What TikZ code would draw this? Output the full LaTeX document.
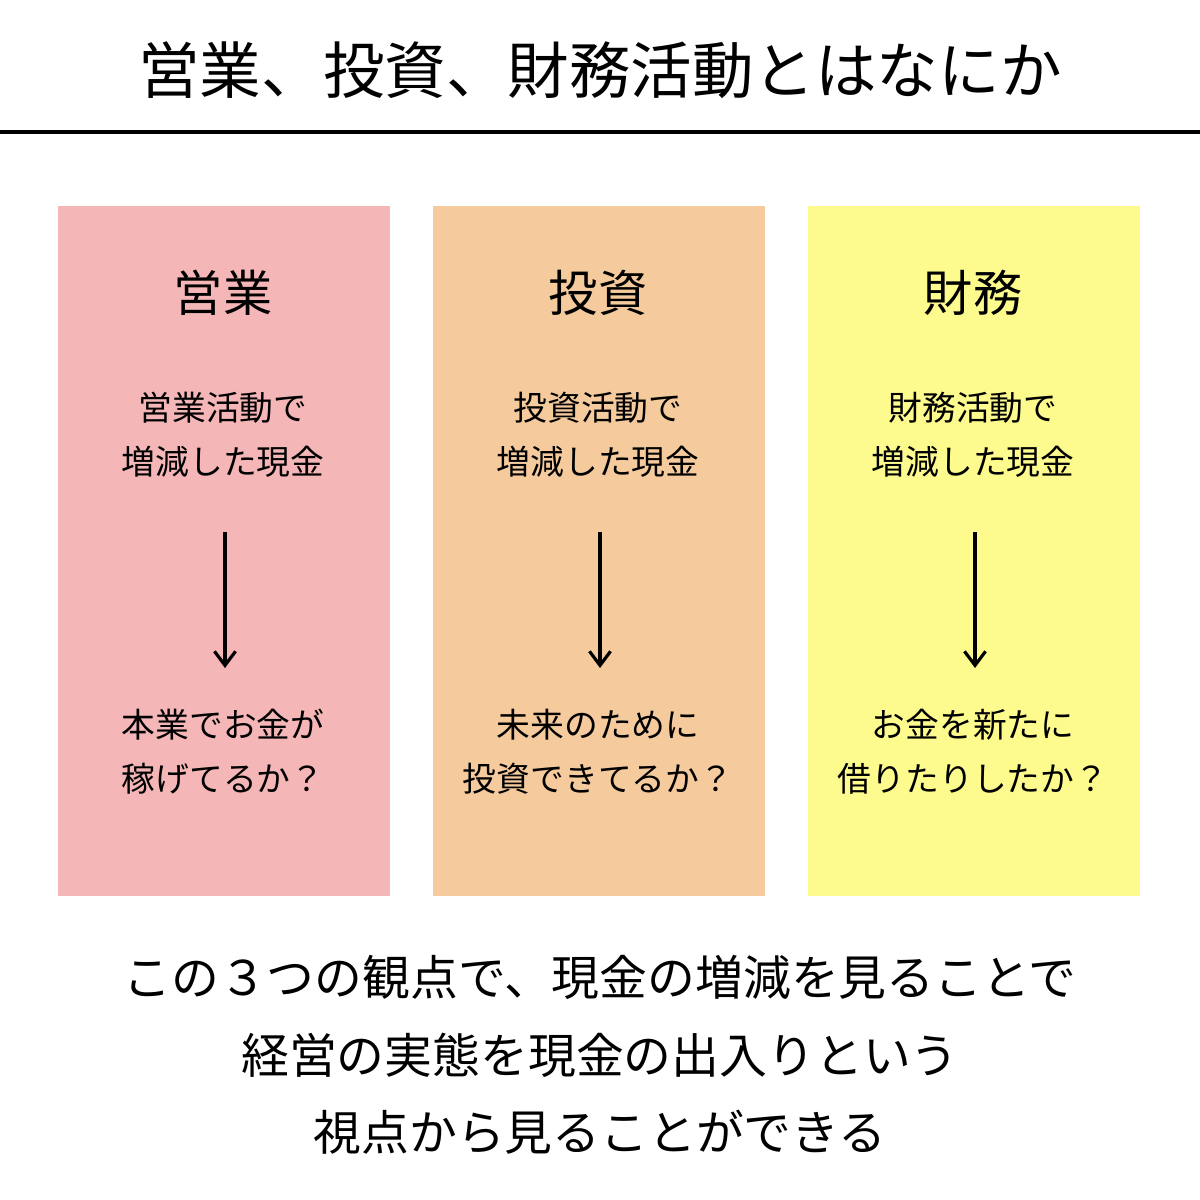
\documentclass[tikz,border=0pt]{standalone}
\usepackage{fontspec}
\usetikzlibrary{arrows.meta}
\setmainfont{Noto Sans CJK JP}
\begin{document}
\begin{tikzpicture}[x=0.01cm,y=-0.01cm,
  box/.style={draw=none,minimum width=332*0.01cm,minimum height=690*0.01cm,anchor=north west,inner sep=0},
  head/.style={font=\fontsize{14}{16}\selectfont},
  small/.style={font=\fontsize{9.6}{15.4}\selectfont,align=center},
  big/.style={font=\fontsize{13.6}{22}\selectfont,align=center},
  arr/.style={-{Straight Barb[length=4pt,width=6pt]},line width=0.9pt}]
\useasboundingbox (0,0) rectangle (1200,1200);
\fill[white] (0,0) rectangle (1200,1200);
\node[font=\fontsize{17.5}{20}\selectfont] (title) at (600,70) {営業、投資、財務活動とはなにか};
\coordinate (l1) at (0,132); \coordinate (l2) at (1200,132);
\draw[line width=1pt] (l1) -- (l2);
\definecolor{cpink}{HTML}{F4B6B6}\definecolor{corange}{HTML}{F5CB9E}\definecolor{cyellow}{HTML}{FDFA8E}
\foreach \x/\c/\n/\h/\a/\b [count=\i] in {57/cpink/p/営業/営業活動で\\増減した現金/本業でお金が\\稼げてるか？,
  432/corange/o/投資/投資活動で\\増減した現金/未来のために\\投資できてるか？,
  807/cyellow/y/財務/財務活動で\\増減した現金/お金を新たに\\借りたりしたか？}{
  \node[box,fill=\c] (b\n) at (\x,205) {};
  \node[head] (h\n) at (\x+166,293) {\h};
  \node[small] (t\n) at (\x+166,435) {\a};
  \node[small] (u\n) at (\x+166,752) {\b};
  \coordinate (s\n) at (\x+168,532); \coordinate (e\n) at (\x+168,668);
  \draw[arr] (s\n) -- (e\n);
}
\node[big] (bottom) at (600,1055) {この３つの観点で、現金の増減を見ることで\\経営の実態を現金の出入りという\\視点から見ることができる};
\end{tikzpicture}
\end{document}
